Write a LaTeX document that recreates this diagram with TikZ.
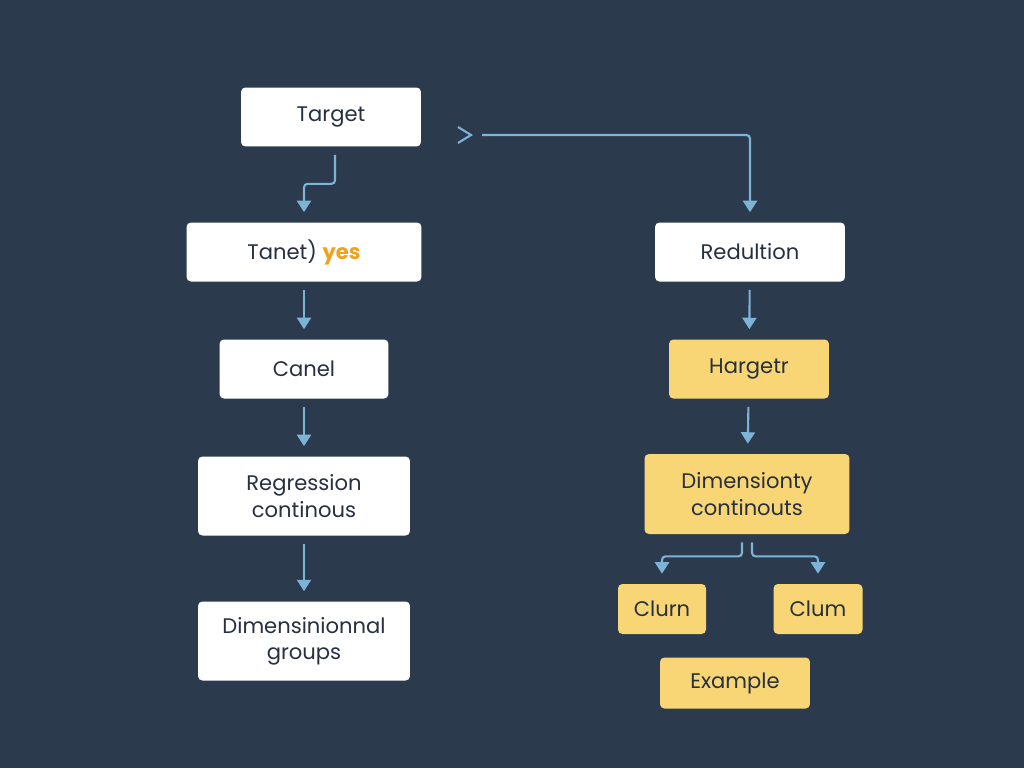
\documentclass[tikz,border=0pt]{standalone}
\usepackage{fontspec}
\setmainfont{Poppins}
\usepackage{tikz}
\usetikzlibrary{arrows.meta,positioning}
\definecolor{bgnavy}{HTML}{2C3A4E}
\definecolor{flowblue}{HTML}{7DB3D6}
\definecolor{boxyellow}{HTML}{F8D675}
\definecolor{txtdark}{HTML}{263040}
\definecolor{yesorange}{HTML}{F0A21E}

\begin{document}
\begin{tikzpicture}[x=0.02cm,y=-0.02cm,>={Triangle[width=8pt,length=6.5pt,fill=flowblue]},
  box/.style={rectangle,rounded corners=2.5pt,fill=white,text=txtdark,align=center,
    font=\fontsize{12}{15}\selectfont,inner sep=0pt},
  ybox/.style={box,fill=boxyellow},
  flow/.style={->,draw=flowblue,line width=1.2pt,rounded corners=2pt,
    shorten <=0.16cm,shorten >=0.2cm}]

	% Background
	\fill[bgnavy] (0,0) rectangle (1024,768);
	\useasboundingbox (0,0) rectangle (1024,768);

	% Left column
	\node [box,minimum width=3.6cm,minimum height=1.18cm] at (331,117) (target) {Target};
	\node [box,minimum width=4.7cm,minimum height=1.18cm] at (304,252) (tanet) {Tanet) \textcolor{yesorange}{\bfseries yes}};
	\node [box,minimum width=3.38cm,minimum height=1.18cm] at (304,369) (canel) {Canel};
	\node [box,minimum width=4.24cm,minimum height=1.58cm] at (304,496) (regr) {Regression\\continous};
	\node [box,minimum width=4.24cm,minimum height=1.58cm] at (304,641) (dimgr) {Dimensinionnal\\groups};

	% Right column
	\node [box,minimum width=3.8cm,minimum height=1.18cm] at (750,252) (redul) {Redultion};
	\node [ybox,minimum width=3.2cm,minimum height=1.18cm] at (749,369) (harg) {Hargetr};
	\node [ybox,minimum width=4.1cm,minimum height=1.6cm] at (747,494) (dimct) {Dimensionty\\continouts};
	\node [ybox,minimum width=1.76cm,minimum height=1cm] at (662,609) (clurn) {Clurn};
	\node [ybox,minimum width=1.78cm,minimum height=1cm] at (818,609) (clum) {Clum};
	\node [ybox,minimum width=3cm,minimum height=1.02cm] at (735,683) (exmp) {Example};

	% Left edges
	\draw[flow] ([xshift=0.08cm]target.south) -- ++(0,37) -| (tanet.north);
	\path[flow]
	(tanet) edge (canel)
	(canel) edge (regr)
	(regr) edge (dimgr);

	% Top connector
	\draw[flowblue,line width=1.2pt] (458,127) -- (471,135) -- (458,143);
	\coordinate (chev) at (474,135);
	\draw[flow] (chev) -| (redul.north);

	% Right edges
	\path[flow]
	(redul) edge (harg)
	(harg) edge (dimct);
	\draw[flow] ([xshift=-0.1cm]dimct.south) -- ++(0,22) -| (clurn.north);
	\draw[flow] ([xshift=0.1cm]dimct.south) -- ++(0,22) -| (clum.north);

\end{tikzpicture}
\end{document}
